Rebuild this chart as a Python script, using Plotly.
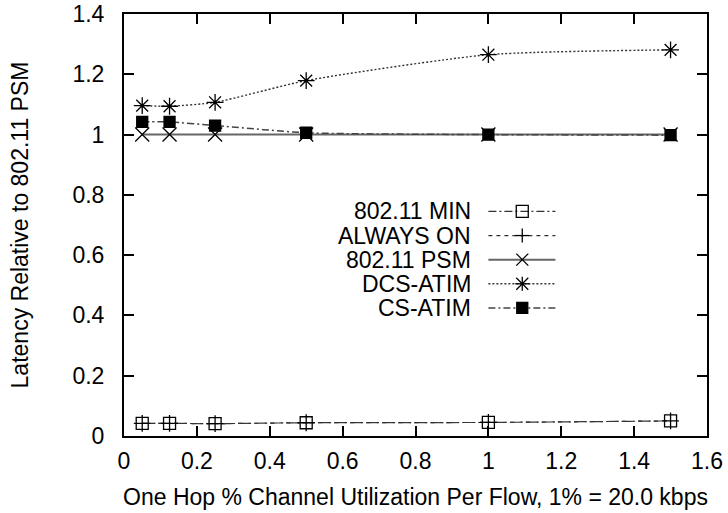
import plotly.graph_objects as go

# ---- data ----
x_util = [0.05, 0.125, 0.25, 0.5, 1.0, 1.5]
min_80211 = [0.042, 0.042, 0.041, 0.044, 0.045, 0.050]
always_on = [0.042, 0.042, 0.041, 0.044, 0.045, 0.050]
psm_80211 = [1.0, 1.0, 1.0, 1.0, 1.0, 1.0]
dcs_atim = [1.096, 1.094, 1.107, 1.179, 1.265, 1.281]
cs_atim = [1.042, 1.042, 1.030, 1.006, 1.000, 0.998]

series_names = ["802.11 MIN", "ALWAYS ON", "802.11 PSM", "DCS-ATIM", "CS-ATIM"]
x_ticks = [0, 0.2, 0.4, 0.6, 0.8, 1.0, 1.2, 1.4, 1.6]
y_ticks = [0, 0.2, 0.4, 0.6, 0.8, 1.0, 1.2, 1.4]
x_title = "One Hop % Channel Utilization Per Flow, 1% = 20.0 kbps"
y_title = "Latency Relative to 802.11 PSM"

# ---- styles ----
FONT = "Liberation Sans, Arial, Helvetica, sans-serif"
FS = 23
styles = [
    dict(color="#333333", dash="8px,3px,2px,3px", width=1.2, symbol="square-open", size=12),
    dict(color="#333333", dash="4px,4px", width=1.2, symbol="cross-thin-open", size=12),
    dict(color="#666666", dash="solid", width=2, symbol="x-thin-open", size=14),
    dict(color="#333333", dash="2px,2px", width=1.4, symbol="asterisk-open", size=14),
    dict(color="#444444", dash="7px,3px,2px,3px", width=1.5, symbol="square", size=11),
]
series = [min_80211, always_on, psm_80211, dcs_atim, cs_atim]

fig = go.Figure()
for name, ys, st in zip(series_names, series, styles):
    fig.add_trace(go.Scatter(
        x=x_util, y=ys, name=name, mode="lines+markers",
        line=dict(color=st["color"], dash=st["dash"], width=st["width"], shape="spline", smoothing=0.6),
        marker=dict(symbol=st["symbol"], size=st["size"], color="black",
                    line=dict(color="black", width=1.3)),
        showlegend=False,
    ))

# ---- custom legend (text on the left, key on the right) ----
leg_rows = [0.745, 0.665, 0.585, 0.505, 0.425]
leg_text_x = 0.959
leg_x0, leg_xm, leg_x1 = 1.0, 1.093, 1.184
annotations = []
shapes = []

def pix_line(xc, yc, dx0, dy0, dx1, dy1, w=1.3):
    return dict(type="line", xref="x", yref="y", xsizemode="pixel", ysizemode="pixel",
                xanchor=xc, yanchor=yc, x0=dx0, y0=dy0, x1=dx1, y1=dy1,
                line=dict(color="black", width=w))

def pix_rect(xc, yc, h, filled):
    return dict(type="rect", xref="x", yref="y", xsizemode="pixel", ysizemode="pixel",
                xanchor=xc, yanchor=yc, x0=-h, y0=-h, x1=h, y1=h,
                line=dict(color="black", width=1.3),
                fillcolor="black" if filled else "rgba(0,0,0,0)")

for name, yrow, st in zip(series_names, leg_rows, styles):
    annotations.append(dict(x=leg_text_x, y=yrow, xref="x", yref="y", text=name,
                            showarrow=False, xanchor="right", yanchor="middle",
                            font=dict(family=FONT, size=FS, color="black")))
    shapes.append(dict(type="line", xref="x", yref="y", x0=leg_x0, x1=leg_x1, y0=yrow, y1=yrow,
                       line=dict(color=st["color"], dash=st["dash"], width=st["width"])))
    sym = st["symbol"]
    if sym == "square-open":
        shapes.append(pix_rect(leg_xm, yrow, 6, False))
    elif sym == "square":
        shapes.append(pix_rect(leg_xm, yrow, 5.5, True))
    if sym in ("cross-thin-open", "asterisk-open"):
        shapes.append(pix_line(leg_xm, yrow, -7, 0, 7, 0))
        shapes.append(pix_line(leg_xm, yrow, 0, -7, 0, 7))
    if sym in ("x-thin-open", "asterisk-open"):
        shapes.append(pix_line(leg_xm, yrow, -6, -6, 6, 6))
        shapes.append(pix_line(leg_xm, yrow, -6, 6, 6, -6))

axis_common = dict(
    showline=True, linecolor="black", linewidth=2, mirror="allticks",
    ticks="inside", ticklen=10, tickwidth=1.5, tickcolor="black",
    showgrid=False, zeroline=False,
    tickfont=dict(family=FONT, size=FS, color="black"),
)

fig.update_layout(
    width=728, height=513,
    margin=dict(l=124, r=21, t=14, b=77, autoexpand=False),
    paper_bgcolor="white", plot_bgcolor="white",
    font=dict(family=FONT, size=FS, color="black"),
    xaxis=dict(range=[0, 1.6], tickvals=x_ticks, ticklabelstandoff=3,
               title=dict(text=x_title, standoff=16, font=dict(family=FONT, size=FS)),
               **axis_common),
    yaxis=dict(range=[0, 1.4], tickvals=y_ticks, ticklabelstandoff=13,
               title=dict(text=y_title, standoff=37, font=dict(family=FONT, size=FS)),
               **axis_common),
    annotations=annotations,
    shapes=shapes,
)

fig.write_html("out.html")
